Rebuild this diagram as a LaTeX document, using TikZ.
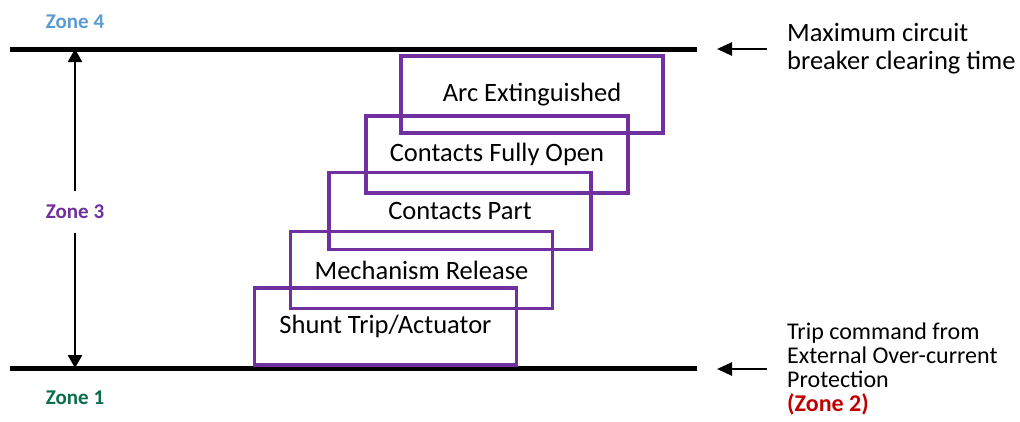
\documentclass[tikz,border=0pt]{standalone}
\usepackage{fontspec}
\setmainfont{Carlito}
\usetikzlibrary{arrows.meta, positioning}
\definecolor{zone4blue}{RGB}{91,155,213}
\definecolor{zone3purple}{RGB}{112,48,160}
\definecolor{zone1green}{RGB}{10,110,76}
\definecolor{zone2red}{RGB}{192,0,0}
\tikzset{
    stagebox/.style={rectangle, draw=zone3purple, line width=3.3pt, minimum width=262pt, minimum height=77pt, font=\fontsize{26.5}{31}\selectfont, inner sep=0pt},
    zonelbl/.style={font=\fontsize{21}{25}\selectfont\bfseries, text=#1},
    timeline/.style={line width=5pt, black},
    spanarrow/.style={{Triangle[length=13pt, width=14pt]}-, line width=2.5pt, black},
    sidearrow/.style={-{Triangle[length=15pt, width=13pt]}, line width=2.5pt, black},
    note/.style={align=left, inner sep=0pt, anchor=west}
}
\begin{document}
\begin{tikzpicture}[x=1pt, y=-1pt]
\useasboundingbox (0,0) rectangle (1020,421);

% time lines
\coordinate (top-l) at (10,49);
\coordinate (top-r) at (697,49);
\coordinate (bot-l) at (10,368);
\coordinate (bot-r) at (697,368);
\draw[timeline] (top-l) -- (top-r);
\draw[timeline] (bot-l) -- (bot-r);

% zones on the left
\node[zonelbl=zone4blue] (zone4) at (75,22) {Zone 4};
\node[zonelbl=zone3purple, inner sep=14pt] (zone3) at (75,212) {Zone 3};
\node[zonelbl=zone1green] (zone1) at (75,398) {Zone 1};
\draw[spanarrow] (zone3.north |- top-l) -- (zone3.north);
\draw[spanarrow] (zone3.south |- bot-l) -- (zone3.south);

% breaker stages
\node[stagebox] (shunt) at (385.5,326.5) {Shunt Trip/Actuator};
\node[stagebox] (mech) at (421.5,270) {Mechanism Release};
\node[stagebox] (part) at (460,211) {Contacts Part};
\node[stagebox] (open) at (497,154.5) {Contacts Fully Open};
\node[stagebox] (arc) at (532,94.5) {Arc Extinguished};

% notes on the right
\node[note, font=\fontsize{26.5}{28}\selectfont] (maxtime) at (787,49) {Maximum circuit\\breaker clearing time};
\node[note, font=\fontsize{24}{24}\selectfont] (tripcmd) at (787,369) {Trip command from\\External Over-current\\Protection\\\textcolor{zone2red}{\bfseries(Zone 2)}};
\draw[sidearrow] ([xshift=-20pt]maxtime.west) -- ([xshift=20pt]top-r);
\draw[sidearrow] ([xshift=-20pt]tripcmd.west) -- ([xshift=20pt]bot-r |- tripcmd.west);

\end{tikzpicture}
\end{document}
